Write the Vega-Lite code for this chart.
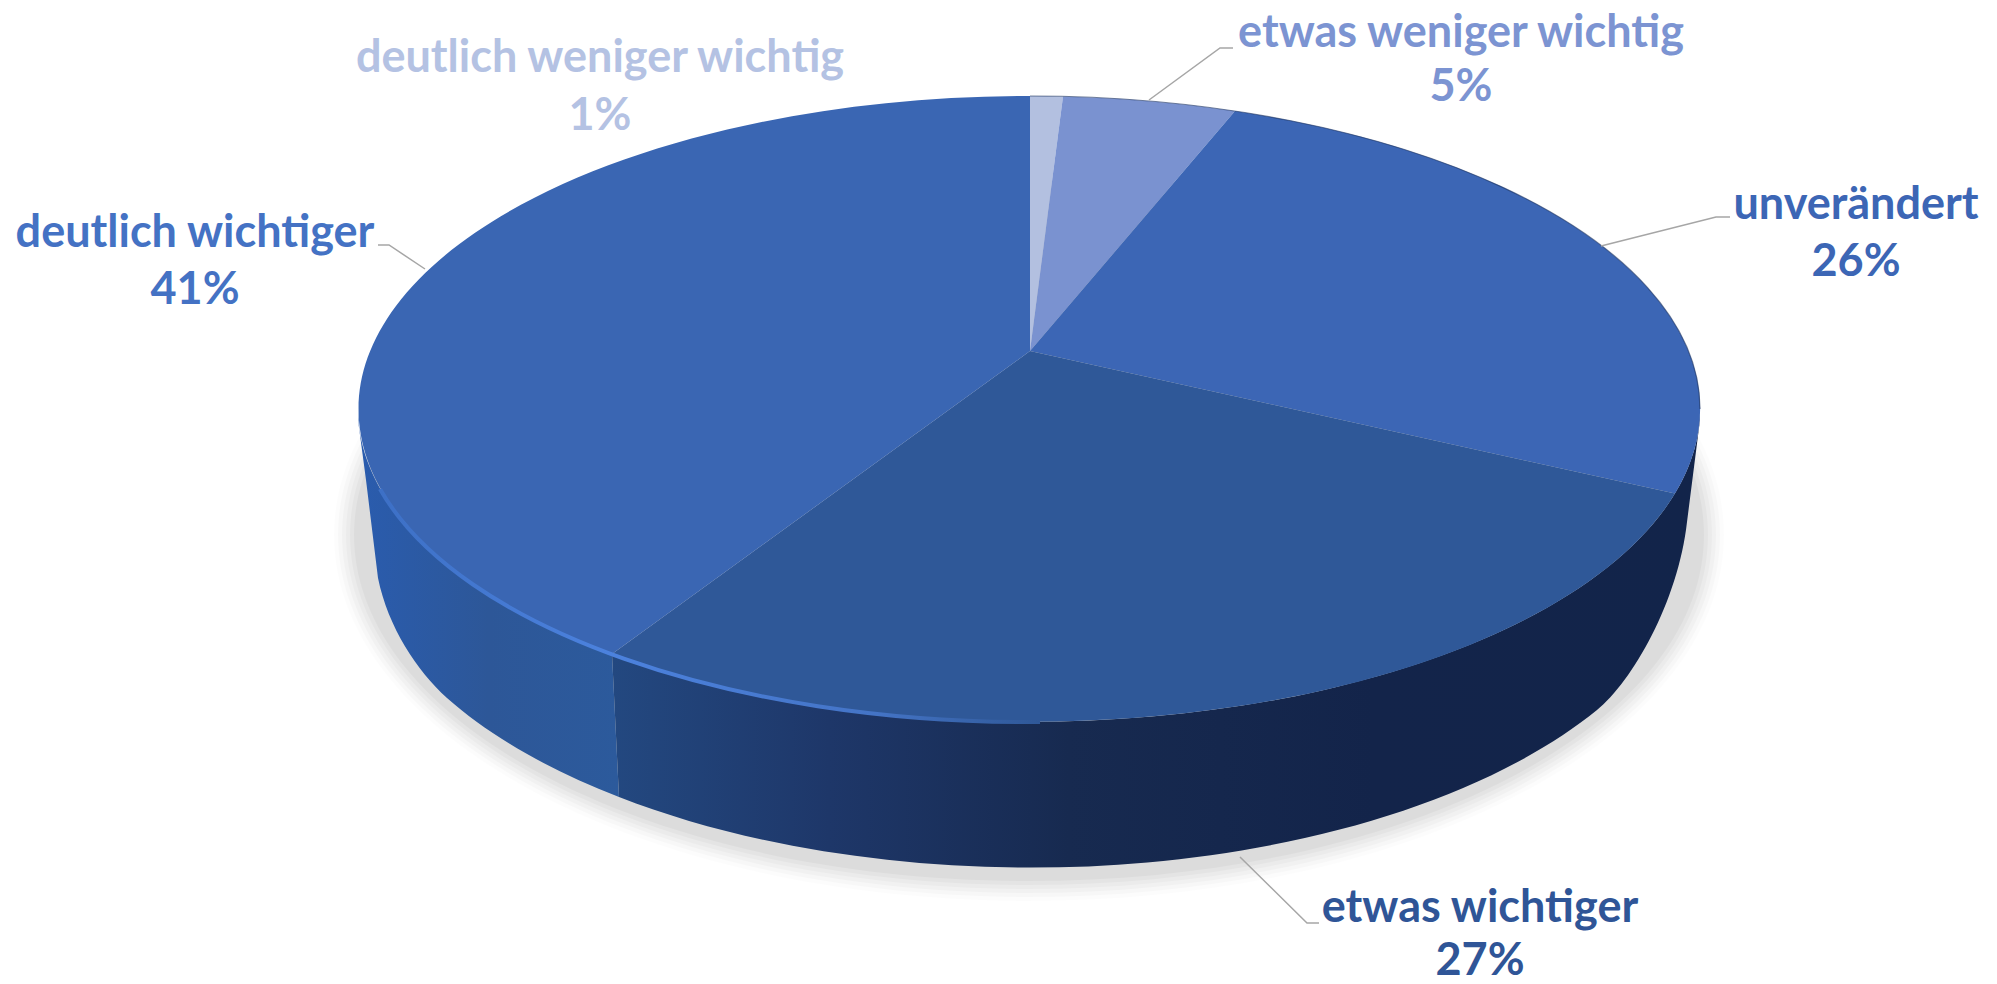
{"$schema":"https://vega.github.io/schema/vega-lite/v6.json","width":1996,"height":984,"padding":0,"autosize":"none","background":"#ffffff","config":{"view":{"stroke":null}},
"data":{"values":[{"category":"deutlich weniger wichtig","share":0.01},{"category":"etwas weniger wichtig","share":0.05},{"category":"unverändert","share":0.26},{"category":"etwas wichtiger","share":0.27},{"category":"deutlich wichtiger","share":0.41}]},
"resolve":{"scale":{"color":"independent","shape":"independent","y":"independent"}},
"layer":[
{"transform":[{"aggregate":[{"op":"sum","field":"share","as":"total"}]}],"mark":{"type":"point","filled":true,"size":4,"opacity":0.012,"color":"#000000","shape":"M-664 43A695 366 0 1 0 726 43A695 366 0 1 0 -664 43Z"},"encoding":{}},
{"transform":[{"aggregate":[{"op":"sum","field":"share","as":"total"}]}],"mark":{"type":"point","filled":true,"size":4,"opacity":0.018,"color":"#000000","shape":"M-660 43A691 362 0 1 0 722 43A691 362 0 1 0 -660 43Z"},"encoding":{}},
{"transform":[{"aggregate":[{"op":"sum","field":"share","as":"total"}]}],"mark":{"type":"point","filled":true,"size":4,"opacity":0.022,"color":"#000000","shape":"M-656 43A687 358 0 1 0 718 43A687 358 0 1 0 -656 43Z"},"encoding":{}},
{"transform":[{"aggregate":[{"op":"sum","field":"share","as":"total"}]}],"mark":{"type":"point","filled":true,"size":4,"opacity":0.025,"color":"#000000","shape":"M-652 43A683 354 0 1 0 714 43A683 354 0 1 0 -652 43Z"},"encoding":{}},
{"transform":[{"aggregate":[{"op":"sum","field":"share","as":"total"}]}],"mark":{"type":"point","filled":true,"size":4,"opacity":0.028,"color":"#000000","shape":"M-648 43A679 350 0 1 0 710 43A679 350 0 1 0 -648 43Z"},"encoding":{}},
{"transform":[{"aggregate":[{"op":"sum","field":"share","as":"total"}]}],"mark":{"type":"point","filled":true,"size":4,"opacity":0.03,"color":"#000000","shape":"M-644 43A675 346 0 1 0 706 43A675 346 0 1 0 -644 43Z"},"encoding":{}},
{"transform":[{"filter":"datum.share == 0.41"}],"mark":{"type":"point","filled":true,"size":4,"opacity":1,"strokeWidth":0,"shape":"M-640 -83L-640 -72L-632 -12L-620 86C-610 135 -581 179 -551 206A665 330 0 0 0 -379 305L-386 162A671 313 0 0 1 -640 -83Z","fill":{"gradient":"linear","x1":0,"y1":0,"x2":1,"y2":0,"stops":[{"offset":0,"color":"#2a5cae"},{"offset":0.5,"color":"#2d5798"},{"offset":1,"color":"#2c5a9c"}]}},"encoding":{}},
{"transform":[{"filter":"datum.share == 0.27"}],"mark":{"type":"point","filled":true,"size":4,"opacity":1,"strokeWidth":0,"shape":"M-386 162L-379 305A665 330 0 0 0 599 218C634 190 680 110 689 30L702 -72L702 -83A671 313 0 0 1 -386 162Z","fill":{"gradient":"linear","x1":0,"y1":0,"x2":1,"y2":0,"stops":[{"offset":0,"color":"#234880"},{"offset":0.2,"color":"#1e3769"},{"offset":0.42,"color":"#172a50"},{"offset":0.7,"color":"#13244a"},{"offset":1,"color":"#12244a"}]}},"encoding":{}},
{"mark":{"type":"point","filled":true,"size":4,"opacity":1,"strokeWidth":0},"encoding":{"shape":{"field":"category","type":"nominal","legend":null,"scale":{"domain":["deutlich weniger wichtig","etwas weniger wichtig","unverändert","etwas wichtiger","deutlich wichtiger"],"range":["M32 -141L32 -396A671 313 0 0 1 65 -395.6Z","M32 -141L65 -395.6A671 313 0 0 1 237 -380.9Z","M32 -141L237 -380.9A671 313 0 0 1 677 1.6Z","M32 -141L677 1.6A671 313 0 0 1 -386 162Z","M32 -141L-386 162A671 313 0 0 1 32 -396Z"]}},"color":{"field":"category","type":"nominal","legend":null,"scale":{"domain":["deutlich weniger wichtig","etwas weniger wichtig","unverändert","etwas wichtiger","deutlich wichtiger"],"range":["#b3c0e0","#7a92d0","#3c66b5","#2f5898","#3a66b3"]}}}},
{"transform":[{"aggregate":[{"op":"sum","field":"share","as":"total"}]}],"mark":{"type":"point","filled":false,"size":4,"opacity":1,"strokeWidth":4,"shape":"M-618 -3A671 313 0 0 0 42 230","stroke":{"gradient":"linear","x1":0,"y1":0,"x2":1,"y2":0,"stops":[{"offset":0,"color":"#3d70c6"},{"offset":0.35,"color":"#4c82de"},{"offset":0.75,"color":"#4474c6"},{"offset":1,"color":"#2f5898"}]}},"encoding":{}},
{"transform":[{"aggregate":[{"op":"sum","field":"share","as":"total"}]}],"mark":{"type":"point","filled":false,"size":4,"opacity":0.6,"strokeWidth":1.2,"color":"#1f3560","shape":"M32 -396A671 313 0 0 1 702 -83"},"encoding":{}},
{"transform":[{"filter":"datum.share != 0.01"}],"mark":{"type":"point","filled":false,"size":4,"opacity":1,"strokeWidth":1.5,"color":"#a6a6a6"},"encoding":{"shape":{"field":"category","type":"nominal","legend":null,"scale":{"domain":["etwas weniger wichtig","unverändert","etwas wichtiger","deutlich wichtiger"],"range":["M151 -392L222 -444L235 -444","M603 -246L718 -275L732 -275","M242 365L309 431L321 431","M-573 -223L-609 -247L-620 -247"]}}}},
{"mark":{"type":"text","font":"Lato","fontWeight":"bold","fontSize":45,"align":"center","baseline":"middle"},"encoding":{"text":{"field":"category","type":"nominal"},"x":{"field":"share","type":"quantitative","axis":null,"scale":{"domain":[0.01,0.05,0.26,0.27,0.41],"range":[600,1461,1856,1480,195]}},"y":{"field":"share","type":"quantitative","axis":null,"scale":{"domain":[0.01,0.05,0.26,0.27,0.41],"range":[58,33,205,908,233]}},"color":{"field":"category","type":"nominal","legend":null,"scale":{"domain":["deutlich weniger wichtig","etwas weniger wichtig","unverändert","etwas wichtiger","deutlich wichtiger"],"range":["#b4c2e3","#7c94d2","#3c66b5","#2f5597","#4472c4"]}}}},
{"mark":{"type":"text","font":"Lato","fontWeight":"bold","fontSize":45,"align":"center","baseline":"middle"},"encoding":{"text":{"field":"share","type":"quantitative","format":".0%"},"x":{"field":"share","type":"quantitative","axis":null,"scale":{"domain":[0.01,0.05,0.26,0.27,0.41],"range":[600,1461,1856,1480,195]}},"y":{"field":"share","type":"quantitative","axis":null,"scale":{"domain":[0.01,0.05,0.26,0.27,0.41],"range":[116,87,262,961,290]}},"color":{"field":"category","type":"nominal","legend":null,"scale":{"domain":["deutlich weniger wichtig","etwas weniger wichtig","unverändert","etwas wichtiger","deutlich wichtiger"],"range":["#b4c2e3","#7c94d2","#3c66b5","#2f5597","#4472c4"]}}}}
]}
